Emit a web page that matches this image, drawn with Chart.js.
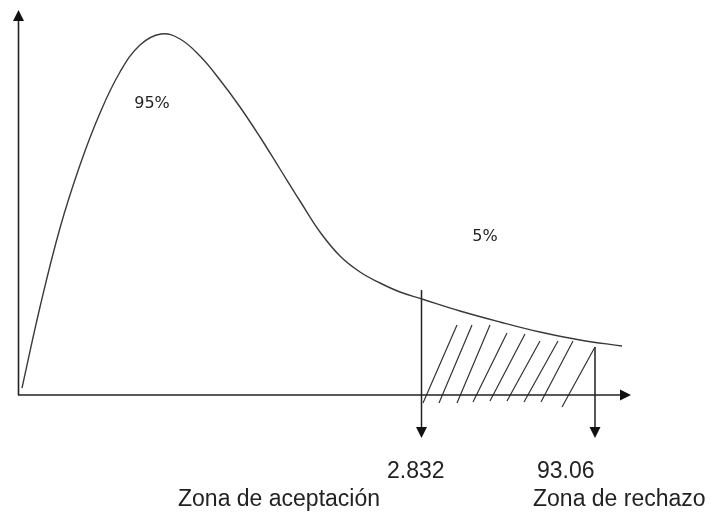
<!DOCTYPE html>
<html>
<head>
<meta charset="utf-8">
<script src="https://cdn.jsdelivr.net/npm/chart.js@4/dist/chart.umd.min.js"></script>
<style>
  html, body { margin: 0; padding: 0; background: #fff; }
  #wrap { width: 711px; height: 512px; position: relative; }
</style>
</head>
<body>
<div id="wrap"><canvas id="c" width="711" height="512"></canvas></div>
<script>
// ---- data (arbitrary diagram units: x to the right of origin, y above the x axis) ----
const curveX = [3, 21, 41, 61, 81, 101, 121, 142, 161, 181, 201, 221, 241, 261, 281, 301, 321, 341, 361, 381, 403, 441, 481, 521, 561, 603];
const curveY = [7, 88, 167, 230, 282, 323, 350, 361, 356, 339, 315, 288, 258, 226, 194, 163, 139, 123, 112, 103, 96, 84, 73, 63, 55, 49];

const criticalX = [402.5, 576];
const criticalTopY = [105, 48];
const criticalLabels = ['2.832', '93.06'];

const hatchX1 = [404, 420, 438, 454, 471, 488, 505, 522, 543];
const hatchY1 = [-8, -8, -8, -7, -6, -6, -7, -7, -12];
const hatchX2 = [438, 453, 471, 488, 506, 521, 539, 554, 576];
const hatchY2 = [70, 70, 70, 62, 61, 54, 54, 54, 48];

const areaLabels = ['95%', '5%'];
const zoneLabels = ['Zona de aceptación', 'Zona de rechazo'];

const axisXEnd = 612;
const axisYEnd = 385;
const arrowBottomY = -43;

// ---- layout (kept separate from data) ----
const areaLabelPos = [[133, 291], [466, 158]];
const critLabelPos = [[368, -83], [518, -83]];
const zoneLabelPos = [[159, -111], [514, -111]];

// ---- build datasets ----
const curve = curveX.map((x, i) => ({ x, y: curveY[i] }));
const hatch = [];
hatchX1.forEach((x, i) => {
  hatch.push({ x, y: hatchY1[i] });
  hatch.push({ x: hatchX2[i], y: hatchY2[i] });
  hatch.push({ x: NaN, y: null });
});
const lineDs = (data, color, width, extra) => Object.assign({
  data, borderColor: color, borderWidth: width, pointRadius: 0, showLine: true,
  fill: false, spanGaps: false
}, extra || {});

const datasets = [
  lineDs(curve, '#3a3a3a', 1.4, { tension: 0.4 }),
  lineDs([{ x: -1, y: 0 }, { x: axisXEnd - 8, y: 0 }], '#222', 1.6),
  lineDs([{ x: -0.5, y: 0 }, { x: -0.5, y: axisYEnd - 8 }], '#222', 1.6),
  lineDs(hatch, '#333', 1.2),
];
criticalX.forEach((x, i) => {
  datasets.push(lineDs([{ x, y: criticalTopY[i] }, { x, y: arrowBottomY + 8 }], '#222', 1.5));
});

const arrowPlugin = {
  id: 'arrows',
  afterDatasetsDraw(chart) {
    const ctx = chart.ctx, xs = chart.scales.x, ys = chart.scales.y;
    const tri = (tx, ty, dir) => {
      ctx.beginPath();
      if (dir === 'right') { ctx.moveTo(tx, ty); ctx.lineTo(tx - 11, ty - 5.5); ctx.lineTo(tx - 11, ty + 5.5); }
      if (dir === 'up') { ctx.moveTo(tx, ty); ctx.lineTo(tx - 5.5, ty + 11); ctx.lineTo(tx + 5.5, ty + 11); }
      if (dir === 'down') { ctx.moveTo(tx, ty); ctx.lineTo(tx - 5.5, ty - 11); ctx.lineTo(tx + 5.5, ty - 11); }
      ctx.closePath(); ctx.fill();
    };
    ctx.save();
    ctx.fillStyle = '#111';
    tri(xs.getPixelForValue(axisXEnd), ys.getPixelForValue(0), 'right');
    tri(xs.getPixelForValue(-0.5), ys.getPixelForValue(axisYEnd), 'up');
    criticalX.forEach(x => tri(xs.getPixelForValue(x), ys.getPixelForValue(arrowBottomY), 'down'));

    ctx.fillStyle = '#222';
    ctx.textBaseline = 'middle';
    ctx.textAlign = 'center';
    ctx.font = '16px "DejaVu Sans"';
    areaLabels.forEach((t, i) => ctx.fillText(t, xs.getPixelForValue(areaLabelPos[i][0]), ys.getPixelForValue(areaLabelPos[i][1])));

    ctx.textAlign = 'left';
    ctx.textBaseline = 'alphabetic';
    ctx.font = '23px "Liberation Sans"';
    criticalLabels.forEach((t, i) => ctx.fillText(t, xs.getPixelForValue(critLabelPos[i][0]), ys.getPixelForValue(critLabelPos[i][1])));
    zoneLabels.forEach((t, i) => ctx.fillText(t, xs.getPixelForValue(zoneLabelPos[i][0]), ys.getPixelForValue(zoneLabelPos[i][1])));
    ctx.restore();
  }
};

new Chart(document.getElementById('c'), {
  type: 'scatter',
  data: { datasets },
  options: {
    responsive: false,
    animation: false,
    layout: { padding: 0 },
    plugins: { legend: { display: false }, tooltip: { enabled: false } },
    scales: {
      x: { type: 'linear', min: -19, max: 692, display: false },
      y: { type: 'linear', min: -117, max: 395, display: false }
    }
  },
  plugins: [arrowPlugin]
});
</script>
</body>
</html>
